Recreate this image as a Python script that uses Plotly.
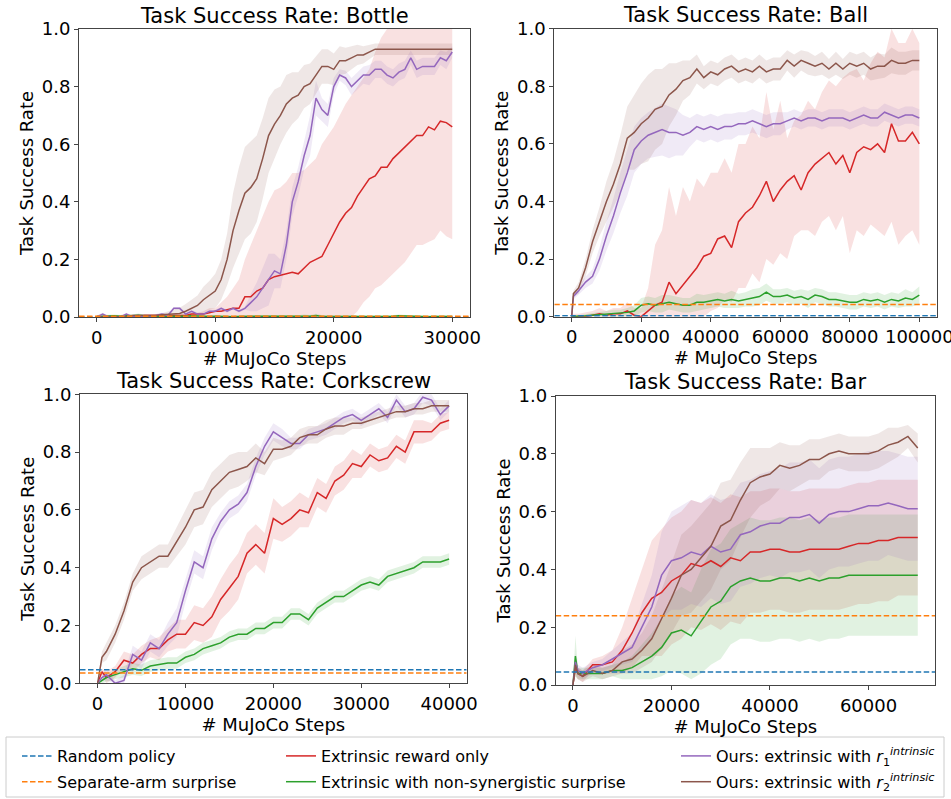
import plotly.graph_objects as go

# ---------------- colours / names ----------------
C_RANDOM = "#1f77b4"
C_SEPARATE = "#ff7f0e"
C_EXTR = "#d62728"
C_NONSYN = "#2ca02c"
C_OURS1 = "#9467bd"
C_OURS2 = "#8c564b"

NAME_RANDOM = "Random policy"
NAME_SEPARATE = "Separate-arm surprise"
NAME_EXTR = "Extrinsic reward only"
NAME_NONSYN = "Extrinsic with non-synergistic surprise"
NAME_OURS1 = "Ours: extrinsic with <i>r</i><sub>1</sub><sup><i>intrinsic</i></sup>"
NAME_OURS2 = "Ours: extrinsic with <i>r</i><sub>2</sub><sup><i>intrinsic</i></sup>"

TITLES = ["Task Success Rate: Bottle", "Task Success Rate: Ball",
          "Task Success Rate: Corkscrew", "Task Success Rate: Bar"]
Y_TICKS = [0.0, 0.2, 0.4, 0.6, 0.8, 1.0]
Y_TICK_TEXT = ["0.0", "0.2", "0.4", "0.6", "0.8", "1.0"]

# ---------------- Bottle ----------------
BOTTLE_X = list(range(0, 30001, 500))
BOTTLE_XTICKS = [0, 10000, 20000, 30000]
BOTTLE_RANDOM = 0.0
BOTTLE_SEPARATE = 0.003
BOTTLE_BROWN = [0, 0, 0, 0, 0, 0, 0.005, 0.005, 0.005, 0.005,
                0.005, 0.008, 0.01, 0.01, 0.012, 0.02, 0.03, 0.04, 0.06, 0.075,
                0.09, 0.13, 0.2, 0.3, 0.37, 0.43, 0.45, 0.48, 0.55, 0.63,
                0.67, 0.7, 0.74, 0.76, 0.77, 0.8, 0.81, 0.84, 0.87, 0.87,
                0.86, 0.89, 0.89, 0.9, 0.91, 0.91, 0.92, 0.93, 0.93, 0.93,
                0.93, 0.93, 0.93, 0.93, 0.93, 0.93, 0.93, 0.93, 0.93, 0.93,
                0.93]
BOTTLE_BROWN_SD = [0.005, 0.005, 0.005, 0.005, 0.005, 0.005, 0.005, 0.005, 0.005, 0.005,
                   0.005, 0.005, 0.01, 0.015, 0.02, 0.025, 0.03, 0.035, 0.045, 0.05,
                   0.06, 0.07, 0.09, 0.13, 0.15, 0.16, 0.16, 0.15, 0.14, 0.13,
                   0.12, 0.1, 0.1, 0.09, 0.08, 0.075, 0.07, 0.065, 0.06, 0.06,
                   0.055, 0.05, 0.045, 0.04, 0.035, 0.03, 0.025, 0.02, 0.02, 0.02,
                   0.02, 0.02, 0.02, 0.02, 0.02, 0.02, 0.02, 0.02, 0.02, 0.02,
                   0.02]
BOTTLE_PURPLE = [0, 0.01, 0, 0, 0, 0.01, 0, 0.005, 0, 0,
                 0.005, 0.01, 0.005, 0.03, 0.03, 0.01, 0.02, 0.01, 0.01, 0.02,
                 0.02, 0.03, 0.02, 0.03, 0.02, 0.03, 0.05, 0.07, 0.1, 0.13,
                 0.16, 0.15, 0.25, 0.4, 0.47, 0.56, 0.63, 0.76, 0.72, 0.7,
                 0.8, 0.84, 0.83, 0.8, 0.82, 0.84, 0.84, 0.86, 0.86, 0.84,
                 0.83, 0.85, 0.86, 0.9, 0.86, 0.87, 0.87, 0.87, 0.9, 0.89,
                 0.92]
BOTTLE_PURPLE_SD = [0.005, 0.005, 0.005, 0.005, 0.005, 0.005, 0.005, 0.005, 0.005, 0.005,
                    0.005, 0.005, 0.005, 0.005, 0.005, 0.005, 0.005, 0.005, 0.005, 0.005,
                    0.005, 0.005, 0.005, 0.005, 0.005, 0.005, 0.03, 0.05, 0.07, 0.09,
                    0.06, 0.05, 0.05, 0.05, 0.05, 0.05, 0.07, 0.06, 0.04, 0.04,
                    0.03, 0.02, 0.025, 0.03, 0.03, 0.03, 0.035, 0.03, 0.03, 0.03,
                    0.03, 0.03, 0.03, 0.025, 0.03, 0.03, 0.03, 0.03, 0.025, 0.03,
                    0.02]
BOTTLE_RED = [0, 0, 0, 0, 0, 0, 0, 0, 0.005, 0.005,
              0.005, 0.005, 0.005, 0.005, 0.005, 0.005, 0.01, 0.01, 0.01, 0.015,
              0.02, 0.02, 0.025, 0.03, 0.03, 0.07, 0.07, 0.09, 0.1, 0.13,
              0.14, 0.145, 0.15, 0.155, 0.15, 0.17, 0.19, 0.2, 0.21, 0.25,
              0.29, 0.33, 0.36, 0.38, 0.42, 0.45, 0.48, 0.49, 0.52, 0.52,
              0.55, 0.57, 0.59, 0.61, 0.63, 0.63, 0.66, 0.65, 0.68, 0.675,
              0.66]
BOTTLE_RED_LO = [0, 0, 0, 0, 0, 0, 0, 0, 0, 0,
                 0, 0, 0, 0, 0, 0, 0, 0, 0, 0,
                 0, 0, 0, 0, 0, 0, 0, 0, 0, 0,
                 0, 0, 0, 0, 0, 0, 0, 0, 0, 0,
                 0, 0, 0, 0, 0.02, 0.05, 0.07, 0.1, 0.11, 0.13,
                 0.15, 0.17, 0.19, 0.22, 0.25, 0.25, 0.26, 0.27, 0.3, 0.28,
                 0.27]
BOTTLE_RED_HI = [0.005, 0.005, 0.005, 0.005, 0.005, 0.005, 0.005, 0.005, 0.01, 0.01,
                 0.01, 0.01, 0.01, 0.01, 0.01, 0.01, 0.015, 0.015, 0.02, 0.03,
                 0.03, 0.05, 0.07, 0.1, 0.13, 0.2, 0.25, 0.3, 0.35, 0.4,
                 0.44, 0.45, 0.47, 0.5, 0.5, 0.51, 0.53, 0.55, 0.6, 0.63,
                 0.66, 0.7, 0.74, 0.77, 0.8, 0.83, 0.86, 0.92, 0.97, 1.0,
                 1.0, 1.0, 1.0, 1.0, 1.0, 1.0, 1.0, 1.0, 1.0, 1.0,
                 1.0]
BOTTLE_GREEN = [0.002, 0.003, 0.002, 0.004, 0.003, 0.005, 0.004, 0.006, 0.004, 0.003,
                0.004, 0.003, 0.002, 0.003, 0.002, 0.003, 0.004, 0.003, 0.002, 0.002,
                0.003, 0.002, 0.002, 0.001, 0.002, 0.002, 0.003, 0.002, 0.002, 0.003,
                0.002, 0.003, 0.002, 0.003, 0.002, 0.004, 0.003, 0.005, 0.002, 0.002,
                0.002, 0.001, 0.002, 0.003, 0.002, 0.002, 0.001, 0.002, 0.002, 0.002,
                0.003, 0.004, 0.003, 0.002, 0.002, 0.002, 0.001, 0.002, 0.002, 0.002,
                0.002]
BOTTLE_GREEN_SD = [0.004, 0.004, 0.004, 0.005, 0.004, 0.005, 0.005, 0.006, 0.005, 0.004,
                   0.004, 0.004, 0.004, 0.004, 0.004, 0.004, 0.005, 0.004, 0.004, 0.004,
                   0.004, 0.004, 0.004, 0.003, 0.004, 0.004, 0.004, 0.004, 0.004, 0.004,
                   0.004, 0.004, 0.004, 0.004, 0.004, 0.005, 0.004, 0.006, 0.004, 0.004,
                   0.004, 0.003, 0.004, 0.004, 0.004, 0.004, 0.003, 0.004, 0.004, 0.004,
                   0.004, 0.005, 0.004, 0.004, 0.004, 0.004, 0.003, 0.004, 0.004, 0.004,
                   0.004]

# ---------------- Ball ----------------
BALL_X = [0, 500] + list(range(2000, 100001, 2000))
BALL_XTICKS = [0, 20000, 40000, 60000, 80000, 100000]
BALL_RANDOM = 0.003
BALL_SEPARATE = 0.042
BALL_BROWN = [0, 0.08, 0.1, 0.17, 0.26, 0.33, 0.4, 0.46, 0.53, 0.62, 0.64, 0.67,
              0.69, 0.72, 0.73, 0.77, 0.79, 0.82, 0.83, 0.86, 0.83, 0.85,
              0.84, 0.86, 0.87, 0.85, 0.86, 0.85, 0.87, 0.85, 0.86, 0.86,
              0.89, 0.87, 0.89, 0.88, 0.87, 0.88, 0.86, 0.88, 0.86, 0.88,
              0.87, 0.88, 0.86, 0.87, 0.87, 0.89, 0.88, 0.88, 0.89, 0.89]
BALL_BROWN_SD = [0, 0.01, 0.02, 0.03, 0.04, 0.05, 0.07, 0.08, 0.1, 0.11, 0.13, 0.14,
                 0.15, 0.14, 0.13, 0.11, 0.09, 0.07, 0.06, 0.05, 0.04, 0.04,
                 0.04, 0.04, 0.04, 0.04, 0.04, 0.04, 0.04, 0.04, 0.04, 0.04,
                 0.035, 0.04, 0.035, 0.04, 0.035, 0.04, 0.035, 0.04, 0.035, 0.04,
                 0.04, 0.04, 0.04, 0.045, 0.04, 0.045, 0.04, 0.04, 0.035, 0.035]
BALL_PURPLE = [0, 0.07, 0.09, 0.12, 0.14, 0.2, 0.28, 0.35, 0.43, 0.5, 0.58, 0.61,
               0.63, 0.64, 0.65, 0.64, 0.64, 0.63, 0.64, 0.66, 0.65, 0.66,
               0.65, 0.66, 0.66, 0.67, 0.67, 0.68, 0.67, 0.66, 0.67, 0.67,
               0.68, 0.69, 0.68, 0.69, 0.69, 0.68, 0.69, 0.69, 0.69, 0.68,
               0.69, 0.7, 0.69, 0.69, 0.71, 0.7, 0.69, 0.7, 0.7, 0.69]
BALL_PURPLE_SD = [0, 0.01, 0.015, 0.02, 0.025, 0.04, 0.05, 0.06, 0.07, 0.08, 0.08, 0.08,
                  0.08, 0.085, 0.09, 0.09, 0.08, 0.07, 0.05, 0.045, 0.045, 0.045,
                  0.045, 0.045, 0.045, 0.04, 0.04, 0.04, 0.04, 0.04, 0.04, 0.04,
                  0.03, 0.03, 0.03, 0.03, 0.03, 0.03, 0.03, 0.03, 0.03, 0.03,
                  0.03, 0.03, 0.03, 0.03, 0.03, 0.03, 0.03, 0.03, 0.03, 0.03]
BALL_RED = [0, 0, 0, 0, 0.005, 0.01, 0.005, 0.01, 0.01, 0.02, 0.005, 0.0,
            0.02, 0.04, 0.05, 0.12, 0.08, 0.11, 0.14, 0.17, 0.21, 0.22,
            0.27, 0.28, 0.24, 0.33, 0.36, 0.38, 0.42, 0.47, 0.4, 0.44,
            0.47, 0.49, 0.44, 0.5, 0.53, 0.55, 0.57, 0.53, 0.56, 0.5,
            0.57, 0.59, 0.58, 0.6, 0.57, 0.67, 0.61, 0.61, 0.64, 0.6]
BALL_RED_LO = [0, 0, 0, 0, 0, 0, 0, 0, 0, 0, 0, 0,
               0, 0, 0, 0, 0, 0, 0, 0, 0, 0.02,
               0.03, 0.06, 0.05, 0.1, 0.1, 0.15, 0.12, 0.2, 0.18, 0.22,
               0.2, 0.28, 0.3, 0.3, 0.28, 0.33, 0.35, 0.3, 0.35, 0.22,
               0.3, 0.28, 0.32, 0.3, 0.28, 0.33, 0.25, 0.28, 0.3, 0.25]
BALL_RED_HI = [0, 0.01, 0.01, 0.015, 0.02, 0.03, 0.02, 0.03, 0.03, 0.05, 0.03, 0.03,
               0.1, 0.25, 0.3, 0.45, 0.35, 0.45, 0.4, 0.48, 0.45, 0.5,
               0.5, 0.55, 0.5, 0.6, 0.6, 0.66, 0.62, 0.78, 0.65, 0.75,
               0.62, 0.68, 0.7, 0.75, 0.72, 0.78, 0.82, 0.8, 0.83, 0.85,
               0.86, 0.82, 0.88, 0.92, 0.9, 1.0, 0.95, 0.95, 1.0, 0.95]
BALL_GREEN = [0, 0, 0.002, 0.003, 0.005, 0.008, 0.01, 0.012, 0.012, 0.015, 0.02, 0.04,
              0.045, 0.04, 0.045, 0.05, 0.045, 0.04, 0.04, 0.05, 0.05, 0.055,
              0.06, 0.055, 0.06, 0.055, 0.06, 0.065, 0.07, 0.085, 0.07, 0.07,
              0.075, 0.065, 0.07, 0.06, 0.075, 0.07, 0.06, 0.06, 0.055, 0.05,
              0.05, 0.06, 0.055, 0.06, 0.05, 0.06, 0.055, 0.065, 0.06, 0.075]
BALL_GREEN_SD = [0, 0, 0.003, 0.005, 0.006, 0.008, 0.01, 0.012, 0.012, 0.015, 0.02, 0.025,
                 0.025, 0.025, 0.03, 0.025, 0.025, 0.025, 0.025, 0.03, 0.025, 0.025,
                 0.025, 0.025, 0.03, 0.025, 0.025, 0.03, 0.03, 0.03, 0.025, 0.025,
                 0.025, 0.025, 0.025, 0.03, 0.025, 0.025, 0.025, 0.025, 0.025, 0.025,
                 0.025, 0.025, 0.025, 0.025, 0.025, 0.025, 0.025, 0.03, 0.025, 0.03]

# ---------------- Corkscrew ----------------
CORK_X = [0, 500] + list(range(1000, 40001, 1000))
CORK_XTICKS = [0, 10000, 20000, 30000, 40000]
CORK_RANDOM = 0.047
CORK_SEPARATE = 0.036
CORK_BROWN = [0, 0.09, 0.11, 0.17, 0.25, 0.35, 0.4, 0.42, 0.44, 0.44, 0.49, 0.54,
              0.6, 0.61, 0.67, 0.7, 0.73, 0.74, 0.75, 0.78, 0.76, 0.81,
              0.81, 0.82, 0.85, 0.86, 0.86, 0.88, 0.89, 0.89, 0.9, 0.9,
              0.91, 0.92, 0.93, 0.94, 0.94, 0.95, 0.95, 0.96, 0.96, 0.96]
CORK_BROWN_SD = [0, 0.02, 0.03, 0.03, 0.03, 0.03, 0.04, 0.04, 0.04, 0.04, 0.05, 0.06,
                 0.06, 0.06, 0.06, 0.06, 0.06, 0.06, 0.05, 0.05, 0.04, 0.04,
                 0.03, 0.03, 0.03, 0.03, 0.03, 0.03, 0.03, 0.03, 0.02, 0.02,
                 0.02, 0.02, 0.02, 0.02, 0.02, 0.02, 0.02, 0.02, 0.02, 0.02]
CORK_PURPLE = [0, 0.02, 0.03, 0.0, 0.01, 0.1, 0.08, 0.14, 0.12, 0.17, 0.21, 0.32,
               0.42, 0.4, 0.5, 0.56, 0.6, 0.62, 0.66, 0.75, 0.82, 0.87,
               0.85, 0.83, 0.83, 0.86, 0.87, 0.88, 0.9, 0.92, 0.93, 0.91,
               0.93, 0.95, 0.92, 0.98, 0.94, 0.95, 0.99, 0.98, 0.93, 0.96]
CORK_PURPLE_SD = [0, 0.01, 0.02, 0.01, 0.02, 0.03, 0.03, 0.03, 0.03, 0.04, 0.05, 0.04,
                  0.04, 0.04, 0.04, 0.03, 0.03, 0.03, 0.03, 0.03, 0.03, 0.03,
                  0.03, 0.02, 0.02, 0.02, 0.02, 0.02, 0.02, 0.02, 0.02, 0.02,
                  0.02, 0.02, 0.02, 0.02, 0.02, 0.02, 0.02, 0.02, 0.02, 0.02]
CORK_RED = [0, 0.04, 0.02, 0.04, 0.08, 0.07, 0.1, 0.12, 0.12, 0.15, 0.17, 0.17,
            0.21, 0.2, 0.23, 0.29, 0.33, 0.37, 0.45, 0.48, 0.45, 0.57,
            0.55, 0.57, 0.6, 0.59, 0.66, 0.64, 0.7, 0.72, 0.76, 0.75,
            0.79, 0.77, 0.78, 0.82, 0.8, 0.87, 0.87, 0.87, 0.9, 0.91]
CORK_RED_SD = [0, 0.01, 0.02, 0.02, 0.03, 0.03, 0.03, 0.03, 0.04, 0.04, 0.05, 0.05,
               0.06, 0.06, 0.07, 0.07, 0.08, 0.08, 0.07, 0.07, 0.07, 0.07,
               0.06, 0.06, 0.06, 0.05, 0.05, 0.05, 0.05, 0.05, 0.05, 0.04,
               0.04, 0.04, 0.04, 0.04, 0.04, 0.04, 0.04, 0.03, 0.03, 0.03]
CORK_GREEN = [0, 0.01, 0.02, 0.03, 0.04, 0.05, 0.045, 0.06, 0.065, 0.07, 0.07, 0.09,
              0.1, 0.12, 0.13, 0.14, 0.16, 0.17, 0.17, 0.19, 0.19, 0.21,
              0.21, 0.24, 0.24, 0.22, 0.26, 0.28, 0.3, 0.3, 0.32, 0.34,
              0.35, 0.34, 0.37, 0.38, 0.39, 0.4, 0.42, 0.42, 0.42, 0.43]
CORK_GREEN_SD = [0, 0.01, 0.015, 0.015, 0.02, 0.02, 0.02, 0.02, 0.02, 0.02, 0.02, 0.02,
                 0.02, 0.02, 0.02, 0.02, 0.02, 0.02, 0.02, 0.02, 0.02, 0.02,
                 0.02, 0.02, 0.02, 0.02, 0.02, 0.02, 0.02, 0.02, 0.02, 0.02,
                 0.02, 0.02, 0.02, 0.02, 0.02, 0.02, 0.02, 0.02, 0.02, 0.02]

# ---------------- Bar ----------------
BAR_X = [0, 500, 1000] + list(range(2000, 70001, 2000))
BAR_XTICKS = [0, 20000, 40000, 60000]
BAR_RANDOM = 0.045
BAR_SEPARATE = 0.24
BAR_BROWN = [0, 0.07, 0.04, 0.03, 0.05, 0.04, 0.05, 0.08, 0.09, 0.12,
             0.16, 0.23, 0.3, 0.38, 0.4, 0.44, 0.48, 0.55, 0.57, 0.64,
             0.7, 0.72, 0.73, 0.76, 0.75, 0.76, 0.78, 0.78, 0.8, 0.81,
             0.8, 0.8, 0.8, 0.81, 0.83, 0.84, 0.86, 0.82]
BAR_BROWN_SD = [0, 0.03, 0.02, 0.02, 0.02, 0.02, 0.02, 0.04, 0.05, 0.06,
                0.08, 0.1, 0.12, 0.14, 0.15, 0.15, 0.15, 0.15, 0.14, 0.13,
                0.12, 0.1, 0.09, 0.08, 0.08, 0.07, 0.07, 0.07, 0.06, 0.06,
                0.06, 0.06, 0.06, 0.06, 0.06, 0.05, 0.04, 0.05]
BAR_PURPLE = [0, 0.08, 0.05, 0.04, 0.06, 0.07, 0.09, 0.11, 0.13, 0.2,
              0.27, 0.38, 0.43, 0.44, 0.46, 0.45, 0.48, 0.46, 0.47, 0.52,
              0.53, 0.55, 0.56, 0.56, 0.58, 0.58, 0.59, 0.56, 0.59, 0.6,
              0.6, 0.61, 0.62, 0.62, 0.63, 0.62, 0.61, 0.61]
BAR_PURPLE_SD = [0, 0.03, 0.02, 0.02, 0.02, 0.02, 0.03, 0.04, 0.05, 0.08,
                 0.11, 0.15, 0.17, 0.18, 0.18, 0.18, 0.18, 0.18, 0.18, 0.18,
                 0.18, 0.18, 0.18, 0.19, 0.19, 0.19, 0.19, 0.19, 0.19, 0.19,
                 0.19, 0.19, 0.19, 0.19, 0.18, 0.18, 0.18, 0.18]
BAR_RED = [0, 0.06, 0.04, 0.03, 0.07, 0.07, 0.08, 0.12, 0.18, 0.25,
           0.3, 0.32, 0.36, 0.38, 0.42, 0.41, 0.43, 0.41, 0.44, 0.43,
           0.46, 0.46, 0.47, 0.47, 0.46, 0.46, 0.47, 0.47, 0.47, 0.47,
           0.48, 0.49, 0.49, 0.5, 0.5, 0.51, 0.51, 0.51]
BAR_RED_SD = [0, 0.03, 0.02, 0.02, 0.02, 0.03, 0.04, 0.08, 0.12, 0.15,
              0.2, 0.22, 0.22, 0.22, 0.22, 0.22, 0.22, 0.22, 0.22, 0.22,
              0.21, 0.21, 0.21, 0.21, 0.21, 0.21, 0.21, 0.21, 0.21, 0.21,
              0.21, 0.21, 0.21, 0.21, 0.21, 0.2, 0.2, 0.2]
BAR_GREEN = [0, 0.1, 0.04, 0.04, 0.04, 0.04, 0.05, 0.05, 0.06, 0.08,
             0.1, 0.13, 0.18, 0.19, 0.17, 0.22, 0.27, 0.29, 0.34, 0.36,
             0.37, 0.36, 0.36, 0.37, 0.37, 0.36, 0.37, 0.36, 0.37, 0.37,
             0.38, 0.38, 0.38, 0.38, 0.38, 0.38, 0.38, 0.38]
BAR_GREEN_SD = [0, 0.07, 0.02, 0.02, 0.02, 0.02, 0.02, 0.03, 0.04, 0.06,
                0.08, 0.1, 0.13, 0.15, 0.15, 0.18, 0.2, 0.2, 0.2, 0.2,
                0.21, 0.21, 0.21, 0.21, 0.21, 0.21, 0.21, 0.21, 0.21, 0.21,
                0.21, 0.21, 0.21, 0.21, 0.21, 0.21, 0.21, 0.21]


def sym_band(mean, sd):
    lo = [max(0.0, m - s) for m, s in zip(mean, sd)]
    hi = [m + s for m, s in zip(mean, sd)]
    return lo, hi


def rgba(hexc, a):
    h = hexc.lstrip("#")
    return "rgba(%d,%d,%d,%.3f)" % (int(h[0:2], 16), int(h[2:4], 16), int(h[4:6], 16), a)


PANELS = [
    dict(title=TITLES[0], x=BOTTLE_X, xticks=BOTTLE_XTICKS, xrange=[-1500, 31500],
         dom_x=[79 / 951, 470 / 951], dom_y=[1 - 317 / 799, 1 - 29 / 799], title_y=16,
         random=BOTTLE_RANDOM, separate=BOTTLE_SEPARATE,
         series=[(C_EXTR, BOTTLE_RED, BOTTLE_RED_LO, BOTTLE_RED_HI),
                 (C_NONSYN, BOTTLE_GREEN) + sym_band(BOTTLE_GREEN, BOTTLE_GREEN_SD),
                 (C_OURS1, BOTTLE_PURPLE) + sym_band(BOTTLE_PURPLE, BOTTLE_PURPLE_SD),
                 (C_OURS2, BOTTLE_BROWN) + sym_band(BOTTLE_BROWN, BOTTLE_BROWN_SD)]),
    dict(title=TITLES[1], x=BALL_X, xticks=BALL_XTICKS, xrange=[-5000, 105000],
         dom_x=[554.3 / 951, 936.7 / 951], dom_y=[1 - 316.7 / 799, 1 - 28.7 / 799], title_y=15,
         random=BALL_RANDOM, separate=BALL_SEPARATE,
         series=[(C_EXTR, BALL_RED, BALL_RED_LO, BALL_RED_HI),
                 (C_NONSYN, BALL_GREEN) + sym_band(BALL_GREEN, BALL_GREEN_SD),
                 (C_OURS1, BALL_PURPLE) + sym_band(BALL_PURPLE, BALL_PURPLE_SD),
                 (C_OURS2, BALL_BROWN) + sym_band(BALL_BROWN, BALL_BROWN_SD)]),
    dict(title=TITLES[2], x=CORK_X, xticks=CORK_XTICKS, xrange=[-2000, 42000],
         dom_x=[80 / 951, 466.7 / 951], dom_y=[1 - 683.3 / 799, 1 - 394.3 / 799], title_y=381,
         random=CORK_RANDOM, separate=CORK_SEPARATE,
         series=[(C_EXTR, CORK_RED) + sym_band(CORK_RED, CORK_RED_SD),
                 (C_NONSYN, CORK_GREEN) + sym_band(CORK_GREEN, CORK_GREEN_SD),
                 (C_OURS1, CORK_PURPLE) + sym_band(CORK_PURPLE, CORK_PURPLE_SD),
                 (C_OURS2, CORK_BROWN) + sym_band(CORK_BROWN, CORK_BROWN_SD)]),
    dict(title=TITLES[3], x=BAR_X, xticks=BAR_XTICKS, xrange=[-3500, 73500],
         dom_x=[555.7 / 951, 935 / 951], dom_y=[1 - 685 / 799, 1 - 396 / 799], title_y=382,
         random=BAR_RANDOM, separate=BAR_SEPARATE,
         series=[(C_EXTR, BAR_RED) + sym_band(BAR_RED, BAR_RED_SD),
                 (C_NONSYN, BAR_GREEN) + sym_band(BAR_GREEN, BAR_GREEN_SD),
                 (C_OURS1, BAR_PURPLE) + sym_band(BAR_PURPLE, BAR_PURPLE_SD),
                 (C_OURS2, BAR_BROWN) + sym_band(BAR_BROWN, BAR_BROWN_SD)]),
]

LEGEND_INFO = {
    C_RANDOM: (NAME_RANDOM, "legend"),
    C_SEPARATE: (NAME_SEPARATE, "legend"),
    C_EXTR: (NAME_EXTR, "legend2"),
    C_NONSYN: (NAME_NONSYN, "legend2"),
    C_OURS1: (NAME_OURS1, "legend3"),
    C_OURS2: (NAME_OURS2, "legend3"),
}

FONT = "DejaVu Sans"
SPINE = "#444444"
fig = go.Figure()
layout = {}
annotations = []

for k, p in enumerate(PANELS):
    suf = "" if k == 0 else str(k + 1)
    xa, ya = "x" + suf, "y" + suf
    first = (k == 0)
    for color, mean, lo, hi in p["series"]:
        fig.add_trace(go.Scatter(
            x=list(p["x"]) + list(p["x"])[::-1], y=list(hi) + list(lo)[::-1],
            fill="toself", fillcolor=rgba(color, 0.14), mode="lines",
            line=dict(width=0), hoverinfo="skip", showlegend=False,
            xaxis=xa, yaxis=ya))
    for color, mean, lo, hi in p["series"]:
        name, leg = LEGEND_INFO[color]
        fig.add_trace(go.Scatter(
            x=p["x"], y=mean, mode="lines", line=dict(color=color, width=1.5),
            name=name, legend=leg, legendgroup=name, showlegend=first,
            xaxis=xa, yaxis=ya))
    for color, level in ((C_RANDOM, p["random"]), (C_SEPARATE, p["separate"])):
        name, leg = LEGEND_INFO[color]
        fig.add_trace(go.Scatter(
            x=p["xrange"], y=[level, level], mode="lines",
            line=dict(color=color, width=1.5, dash="5.5px,2.5px"),
            name=name, legend=leg, legendgroup=name, showlegend=first,
            xaxis=xa, yaxis=ya))

    axis_common = dict(showline=True, mirror=True, linecolor=SPINE, linewidth=1,
                       ticks="outside", ticklen=4, tickwidth=1, tickcolor=SPINE,
                       showgrid=False, zeroline=False, automargin=False,
                       ticklabeloverflow="allow",
                       tickfont=dict(size=18, color="black", family=FONT))
    layout["xaxis" + suf] = dict(
        axis_common, domain=p["dom_x"], anchor=ya, range=p["xrange"],
        tickmode="array", tickvals=p["xticks"], ticktext=[str(t) for t in p["xticks"]],
        title=dict(text="# MuJoCo Steps", standoff=2,
                   font=dict(size=18, color="black", family=FONT)))
    layout["yaxis" + suf] = dict(
        axis_common, domain=p["dom_y"], anchor=xa, range=[0, 1],
        tickmode="array", tickvals=Y_TICKS, ticktext=Y_TICK_TEXT,
        title=dict(text="Task Success Rate", standoff=3,
                   font=dict(size=18, color="black", family=FONT)))
    annotations.append(dict(
        text=p["title"], xref="paper", yref="paper",
        x=(p["dom_x"][0] + p["dom_x"][1]) / 2, y=1 - p["title_y"] / 799,
        xanchor="center", yanchor="middle", showarrow=False,
        font=dict(size=21, color="black", family=FONT)))

LEG_FONT = dict(family=FONT, size=16, color="black")
leg_common = dict(orientation="v", yanchor="top", y=1 - 739 / 799, xanchor="left",
                  bgcolor="rgba(0,0,0,0)", borderwidth=0, font=LEG_FONT,
                  tracegroupgap=2, itemclick=False)
layout["legend"] = dict(leg_common, x=17 / 951)
layout["legend2"] = dict(leg_common, x=281 / 951)
layout["legend3"] = dict(leg_common, x=676 / 951)

fig.update_layout(
    **layout,
    annotations=annotations,
    shapes=[dict(type="rect", xref="paper", yref="paper",
                 x0=6 / 951, x1=944 / 951, y0=1 - 797 / 799, y1=1 - 737 / 799,
                 line=dict(color="#cccccc", width=1), fillcolor="rgba(0,0,0,0)")],
    width=951, height=799,
    margin=dict(l=0, r=0, t=0, b=0),
    paper_bgcolor="white", plot_bgcolor="white",
    font=dict(family=FONT, color="black"),
)

fig.write_html("out.html")
